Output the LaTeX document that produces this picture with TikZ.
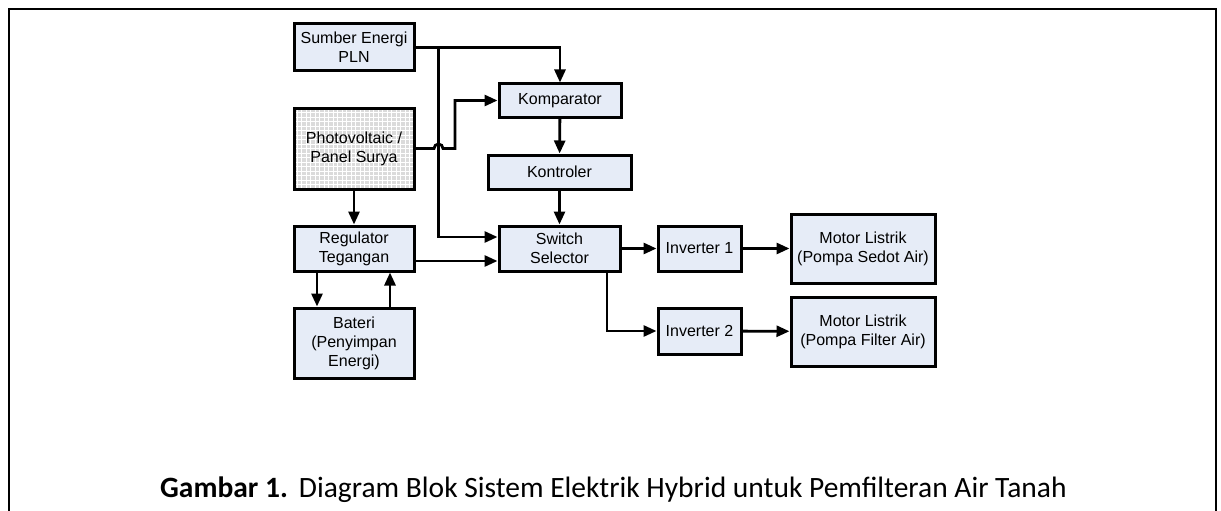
\documentclass[tikz,border=0pt]{standalone}
\usepackage{fontspec}
\setmainfont{Liberation Sans}
\newfontfamily\captionfont{Carlito}
\usetikzlibrary{arrows.meta,calc}
\definecolor{boxfill}{RGB}{230,236,247}
\begin{document}
\begin{tikzpicture}[x=1pt,y=-1pt,
    blok/.style={draw,line width=3pt,fill=boxfill,align=center,
        font=\fontsize{16}{19}\selectfont,inner sep=0pt},
    grid box/.style={blok,fill=none,path picture={
        \fill[black!14] (path picture bounding box.south west) rectangle (path picture bounding box.north east);
        \draw[white,line width=0.8pt,step=4.5pt] (path picture bounding box.south west) grid (path picture bounding box.north east);}},
    arr/.style={line width=2.8pt,-{Triangle[length=13pt,width=11pt]}},
    garis/.style={line width=2.8pt}]
    \useasboundingbox (0,0) rectangle (1221,511);

    % Rahmen
    \draw[line width=2pt] (9,511) -- (9,9) -- (1216,9) -- (1216,511);

    % Blok kiri
    \node[blok,minimum width=120pt,minimum height=47pt] (pln) at (354,47.5) {Sumber Energi\\PLN};
    \node[grid box,minimum width=120pt,minimum height=81pt] (pv) at (354,148.5) {Photovoltaic /\\Panel Surya};
    \node[blok,minimum width=120pt,minimum height=45pt] (reg) at (354,248.5) {Regulator\\Tegangan};
    \node[blok,minimum width=120pt,minimum height=70pt] (bat) at (354,343) {Bateri\\(Penyimpan\\Energi)};

    % Blok tengah
    \node[blok,minimum width=122pt,minimum height=33pt] (komp) at (560,100.5) {Komparator};
    \node[blok,minimum width=143pt,minimum height=34pt] (kont) at (559.5,172) {Kontroler};
    \node[blok,minimum width=121pt,minimum height=45pt] (sw) at (559.5,248.5) {Switch\\Selector};

    % Blok kanan
    \node[blok,minimum width=83pt,minimum height=45pt] (inv1) at (699.5,248.5) {Inverter 1};
    \node[blok,minimum width=83pt,minimum height=46pt] (inv2) at (699.5,331) {Inverter 2};
    \node[blok,minimum width=144pt,minimum height=69pt] (mot1) at (863,248.5) {Motor Listrik\\(Pompa Sedot Air)};
    \node[blok,minimum width=144pt,minimum height=69pt] (mot2) at (863,331.5) {Motor Listrik\\(Pompa Filter Air)};

    % Verbindungen
    \coordinate (tap) at ($(pln.east)+(23,0)$);
    \coordinate (belok) at (455,148.5);
    \draw[arr] (pln.east) -| (komp.north);
    \draw[arr] (tap) |- ([yshift=11.5pt]sw.west);
    \draw[arr] (pv.east) -- ++(18.5,0) arc[start angle=180,end angle=0,radius=4.5pt] -- (belok) |- (komp.west);
    \draw[arr] (komp) -- (kont);
    \draw[arr] (kont) -- (sw);
    \draw[arr] (pv) -- (reg);
    \draw[arr] ([yshift=-12.5pt]reg.east) -- ([yshift=-12.5pt]sw.west);
    \draw[arr] ([xshift=-37pt]reg.south) -- ([xshift=-37pt]bat.north);
    \draw[arr] ([xshift=36pt]bat.north) -- ([xshift=36pt]reg.south);
    \draw[arr] (sw) -- (inv1);
    \draw[arr] ([xshift=47.5pt]sw.south) |- (inv2.west);
    \draw[arr] (inv1) -- (mot1);
    \draw[arr] (inv2) -- (mot2);

    % Keterangan
    \node[anchor=base west,inner sep=0pt,font=\captionfont\fontsize{29.5}{34}\selectfont] (cap) at (160,497)
        {\textbf{Gambar 1.}\hspace{11pt}Diagram Blok Sistem Elektrik Hybrid untuk Pemfilteran Air Tanah};
\end{tikzpicture}
\end{document}
